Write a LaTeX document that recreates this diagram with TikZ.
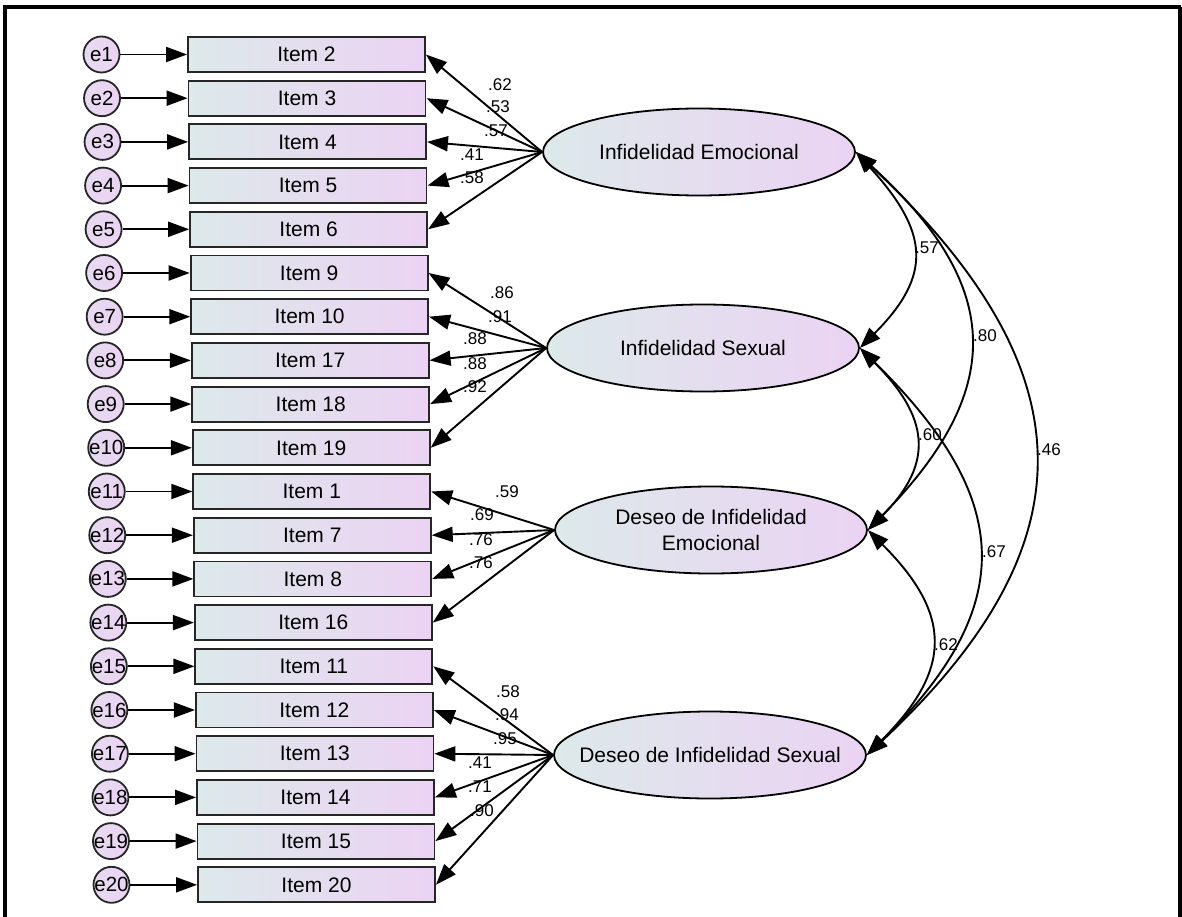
\documentclass[tikz,border=0pt]{standalone}
\usepackage{fontspec}
\setmainfont{Liberation Sans}
\usetikzlibrary{shapes.geometric,arrows.meta}
\definecolor{cizq}{RGB}{221,233,234}
\definecolor{cder}{RGB}{235,211,243}
\tikzset{
	item/.style={draw=black!85,line width=1.8pt,minimum width=237pt,minimum height=35pt,inner sep=0pt,left color=cizq,right color=cder,font=\fontsize{21}{24}\selectfont},
	err/.style={circle,draw=black!85,line width=1.8pt,minimum size=36pt,inner sep=0pt,left color=cder!70!cizq,right color=cder,font=\fontsize{20.5}{22}\selectfont},
	lat/.style={ellipse,draw,line width=1.8pt,minimum width=312pt,minimum height=87pt,inner xsep=-25pt,inner ysep=0pt,left color=cizq,right color=cder,font=\fontsize{21}{26}\selectfont},
	num/.style={inner sep=0pt,font=\fontsize{17}{18}\selectfont},
}
\begin{document}
\begin{tikzpicture}[x=1pt,y=-1pt,>={Triangle[length=21pt,width=15pt]},line width=1.9pt]
	\useasboundingbox (0,0) rectangle (1182,917);
	\def\ytop{54.5} \def\dy{43.7} % filas
	\def\xizq{188}
	% marco
	\draw[line width=4pt] (3,7)--(1181,7);
	\draw[line width=3.5pt] (5,7)--(5,917);
	\draw[line width=3.5pt] (1180,7)--(1180,917);
	% items y errores
	\foreach \i/\t in {1/2,2/3,3/4,4/5,5/6,6/9,7/10,8/17,9/18,10/19,11/1,12/7,13/8,14/16,15/11,16/12,17/13,18/14,19/15,20/20}{
		\pgfmathsetmacro\yy{\ytop+\dy*(\i-1)}
		\pgfmathsetmacro\xx{\xizq+10*(\i-1)/19}
		\node[item] (it\i) at (\xx+118.5,\yy) {Item \t};
		\node[err] (e\i) at (\xx-86.5,\yy) {\makebox[0pt]{e\i}};
		\draw[->] (e\i) -- (it\i);
	}
	% factores
	\node[lat] (IE) at (699,152) {Infidelidad Emocional};
	\node[lat] (IS) at (703,348) {Infidelidad Sexual};
	\node[lat,align=center] (DE) at (711,530) {Deseo de Infidelidad\\Emocional};
	\node[lat] (DS) at (710,755) {Deseo de Infidelidad Sexual};
	% cargas
	\foreach \f/\i/\v/\lx/\ly in {IE/1/.62/500/85,IE/2/.53/498/107,IE/3/.57/496/131,IE/4/.41/472/155,IE/5/.58/472/178,
		IS/6/.86/502/293,IS/7/.91/500/317,IS/8/.88/475/339,IS/9/.88/475/364,IS/10/.92/475/387,
		DE/11/.59/507/492,DE/12/.69/482/515,DE/13/.76/481/540,DE/14/.76/481/563,
		DS/15/.58/508/692,DS/16/.94/507/715,DS/17/.95/505/739,DS/18/.41/480/763,DS/19/.71/480/787,DS/20/.90/482/811}{
		\draw[->] (\f.west) -- (it\i.east);
		\node[num] (n\i) at (\lx,\ly) {\v};
	}
	% covarianzas
	\draw[<->] (IE.east) .. controls +(73,80) and +(73,-73) .. (IS.east);
	\draw[<->] (IE.east) .. controls +(143,130) and +(143,-145) .. (DE.east);
	\draw[<->] (IE.east) .. controls +(230,215) and +(230,-215) .. (DS.east);
	\draw[<->] (IS.east) .. controls +(68,68) and +(68,-68) .. (DE.east);
	\draw[<->] (IS.east) .. controls +(153,150) and +(153,-150) .. (DS.east);
	\draw[<->] (DE.east) .. controls +(85,85) and +(85,-85) .. (DS.east);
	\node[num] (c1) at (927,248) {.57};
	\node[num] (c2) at (985,336) {.80};
	\node[num] (c3) at (1049,450) {.46};
	\node[num] (c4) at (930,435) {.60};
	\node[num] (c5) at (994,552) {.67};
	\node[num] (c6) at (946,645) {.62};
\end{tikzpicture}
\end{document}
